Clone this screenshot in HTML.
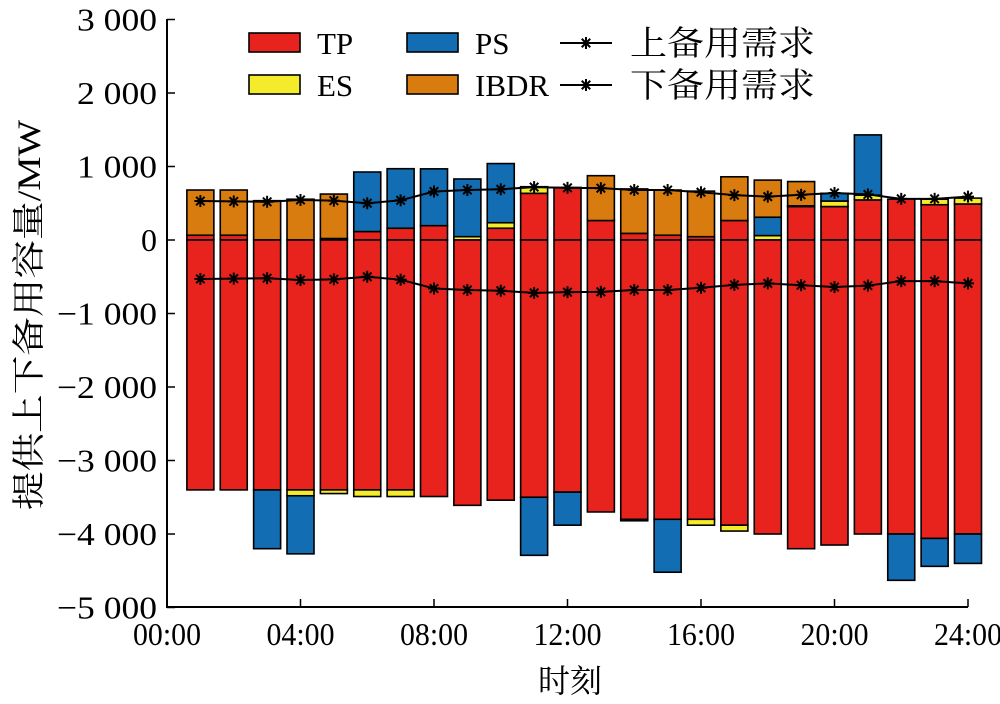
<!DOCTYPE html>
<html><head><meta charset="utf-8"><style>
body{margin:0;background:#fff}
svg text{font-family:"Liberation Serif","Noto Serif CJK SC",serif;fill:#000}
</style></head><body>
<svg id="s" width="1000" height="699" xmlns="http://www.w3.org/2000/svg"></svg>
<script>
const s=document.getElementById('s');let h='';
const Y=v=>240-v*0.0735, X=t=>167+t*33.375;
const C={TP:'#e8231e',PS:'#136db3',ES:'#f4ec2a',IB:'#d97c10'};
const pos=[
[65,0,0,680],[65,0,0,680],[0,0,0,535],[0,0,0,555],[20,0,0,625],[115,0,925,0],[160,0,970,0],[195,0,968,0],
[0,45,830,0],[160,235,1040,0],[635,725,0,0],[715,0,0,0],[265,0,0,875],[90,0,0,695],[65,0,0,680],[45,0,0,665],
[265,0,0,860],[0,60,310,815],[455,465,0,795],[455,530,635,0],[545,610,1430,0],[555,0,0,0],[480,555,0,0],[490,570,0,0]];
const neg=[
[-3400,0,0],[-3400,0,0],[-3400,0,-4200],[-3400,-3480,-4270],[-3400,-3450,0],[-3400,-3490,0],[-3400,-3490,0],[-3490,0,0],
[-3610,0,0],[-3540,0,0],[-3500,0,-4290],[-3430,0,-3880],[-3700,0,0],[-3800,-3820,0],[-3800,0,-4520],[-3800,-3880,0],
[-3880,-3960,0],[-4000,0,0],[-4200,0,0],[-4150,0,0],[-4000,0,0],[-4000,0,-4630],[-4060,0,-4440],[-4000,0,-4400]];
const up=[530,525,520,545,535,500,540,660,680,690,720,710,705,680,680,650,610,590,615,640,620,560,560,590];
function r(x,y1,y2,c){const a=Math.min(y1,y2),b=Math.max(y1,y2);h+=`<rect x="${x}" y="${a}" width="27" height="${b-a}" fill="${c}" stroke="#000" stroke-width="1.6"/>`;}
for(let i=0;i<24;i++){const x=X(i+1)-13.5;const p=pos[i];let base=0;
 const keys=['TP','ES','PS','IB'];
 for(let k=0;k<4;k++){if(p[k]>0){r(x,Y(base),Y(p[k]),C[keys[k]]);base=p[k];}}
 const n=neg[i];base=0;const nk=['TP','ES','PS'];
 for(let k=0;k<3;k++){if(n[k]<0){r(x,Y(base),Y(n[k]),C[nk[k]]);base=n[k];}}
}
function star(x,y){let g='';for(let a=0;a<4;a++){const t=a*Math.PI/4;g+=`<line x1="${x-6*Math.cos(t)}" y1="${y-6*Math.sin(t)}" x2="${x+6*Math.cos(t)}" y2="${y+6*Math.sin(t)}" stroke="#000" stroke-width="2"/>`;}return g;}
for(const sg of [1,-1]){let pts=up.map((v,i)=>`${X(i+1)},${Y(sg*v)}`).join(' ');h+=`<polyline points="${pts}" fill="none" stroke="#000" stroke-width="2"/>`;up.forEach((v,i)=>h+=star(X(i+1),Y(sg*v)));}
h+=`<line x1="167" y1="19" x2="167" y2="608" stroke="#000" stroke-width="2"/><line x1="166" y1="607" x2="968" y2="607" stroke="#000" stroke-width="2"/>`;
const yl=['3 000','2 000','1 000','0','−1 000','−2 000','−3 000','−4 000','−5 000'];
for(let i=0;i<9;i++){const v=3000-i*1000,y=Y(v);const one=yl[i].length==1;const tl=one?' textLength="16"':(yl[i][0]=='−'?' textLength="100"':' textLength="80"');h+=`<line x1="167" y1="${y}" x2="175" y2="${y}" stroke="#000" stroke-width="1.5"/><text x="${one?141:(yl[i][0]=='−'?57:77)}" y="${y+11}" font-size="32"${tl} lengthAdjust="spacingAndGlyphs">${yl[i]}</text>`;}
for(let t=0;t<=24;t+=4){const x=X(t);h+=`<line x1="${x}" y1="607" x2="${x}" y2="599" stroke="#000" stroke-width="1.5"/><text x="${x-34}" y="645" font-size="32" textLength="68" lengthAdjust="spacingAndGlyphs">${String(t).padStart(2,'0')}:00</text>`;}
h+=`<text x="570" y="692" font-size="32" text-anchor="middle">时刻</text>`;
h+=`<text transform="translate(40,315) rotate(-90)" font-size="33" text-anchor="middle" textLength="390" lengthAdjust="spacingAndGlyphs">提供上下备用容量/MW</text>`;
const L=[[249,33,C.TP,'TP'],[407,33,C.PS,'PS'],[249,75,C.ES,'ES'],[407,75,C.IB,'IBDR']];
for(const[x,y,c,t] of L){h+=`<rect x="${x}" y="${y}" width="51" height="19" fill="${c}" stroke="#000" stroke-width="1.6"/><text x="${x+68}" y="${y+21}" font-size="31">${t}</text>`;}
for(const[y,t] of [[43,'上备用需求'],[85,'下备用需求']]){h+=`<line x1="560" y1="${y}" x2="612" y2="${y}" stroke="#000" stroke-width="2"/>`+star(586,y)+`<text x="630" y="${y+12}" font-size="34" textLength="185" lengthAdjust="spacingAndGlyphs">${t}</text>`;}
s.innerHTML=h;
</script>
</body></html>
